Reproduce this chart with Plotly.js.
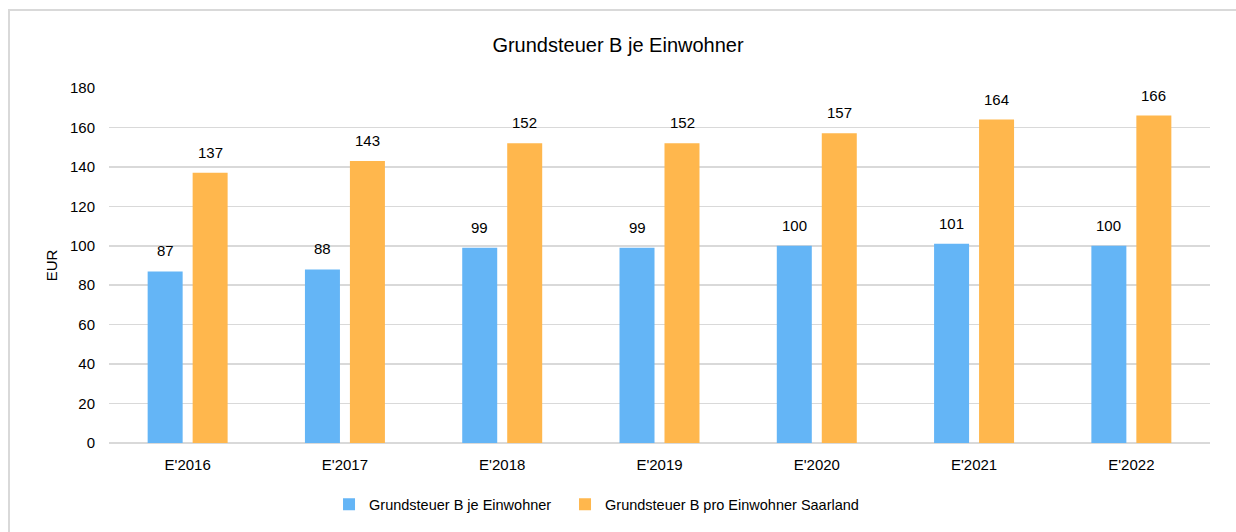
<!DOCTYPE html>
<html>
<head>
<meta charset="utf-8">
<script src="https://cdn.plot.ly/plotly-3.0.1.min.js"></script>
<style>
  html, body { margin: 0; padding: 0; background: #ffffff; overflow: hidden; }
  #frame { position: absolute; left: 8px; top: 9px; width: 1300px; height: 600px; border: 2px solid #D9D9D9; box-sizing: border-box; }
  #chart { position: absolute; left: 0; top: 0; width: 1236px; height: 532px; }
</style>
</head>
<body>
<div id="frame"></div>
<div id="chart"></div>
<script>
const categories = ["E'2016", "E'2017", "E'2018", "E'2019", "E'2020", "E'2021", "E'2022"];
const seriesNames = ["Grundsteuer B je Einwohner", "Grundsteuer B pro Einwohner Saarland"];
const valuesLocal = [87, 88, 99, 99, 100, 101, 100];
const valuesSaarland = [137, 143, 152, 152, 157, 164, 166];
const colors = ["#64B5F6", "#FFB74D"];

const font = "Liberation Sans, Arial, sans-serif";

const traces = [
  { type: 'bar', name: seriesNames[0], x: categories, y: valuesLocal, marker: { color: colors[0] }, hoverinfo: 'x+y', legendwidth: 191 },
  { type: 'bar', name: seriesNames[1], x: categories, y: valuesSaarland, marker: { color: colors[1] }, hoverinfo: 'x+y' }
];

const annotations = [];
[valuesLocal, valuesSaarland].forEach((vals, si) => {
  vals.forEach((v, i) => {
    annotations.push({
      x: categories[i], y: v, xref: 'x', yref: 'y',
      text: String(v), showarrow: false,
      xanchor: 'center', yanchor: 'bottom',
      xshift: si === 0 ? -22.5 : 22.5, yshift: 10,
      font: { family: font, size: 15, color: '#000000' }
    });
  });
});

const layout = {
  width: 1236, height: 532,
  paper_bgcolor: 'rgba(0,0,0,0)', plot_bgcolor: 'rgba(0,0,0,0)',
  margin: { l: 109, r: 26, t: 88, b: 89 },
  font: { family: font, size: 15, color: '#000000' },
  title: { text: 'Grundsteuer B je Einwohner', x: 0.5, xref: 'container', xanchor: 'center', y: 0.915, yref: 'container', yanchor: 'middle',
           font: { family: font, size: 20, color: '#000000' } },
  barmode: 'group', bargap: 0.428, bargroupgap: 0.222,
  xaxis: {
    type: 'category', showgrid: false, zeroline: false, showline: false,
    ticks: 'outside', ticklen: 8, tickcolor: 'rgba(0,0,0,0)',
    tickfont: { family: font, size: 15, color: '#000000' }
  },
  yaxis: {
    range: [0, 180], dtick: 20, tick0: 0,
    showgrid: true, gridcolor: '#D9D9D9', gridwidth: 1.5,
    zeroline: true, zerolinecolor: '#D9D9D9', zerolinewidth: 1.5,
    showline: false, ticks: 'outside', ticklen: 10, tickcolor: 'rgba(0,0,0,0)',
    tickfont: { family: font, size: 15, color: '#000000' },
    title: { text: 'EUR', standoff: 8, font: { family: font, size: 15, color: '#000000' } }
  },
  showlegend: true,
  legend: {
    orientation: 'h', x: 0.2662, xanchor: 'left', xref: 'container', y: 0.052, yref: 'container', yanchor: 'middle',
    font: { family: font, size: 14.5, color: '#000000' }, itemwidth: 30, traceorder: 'normal'
  },
  annotations: annotations
};

Plotly.newPlot('chart', traces, layout, { displayModeBar: false, staticPlot: true });
</script>
</body>
</html>
